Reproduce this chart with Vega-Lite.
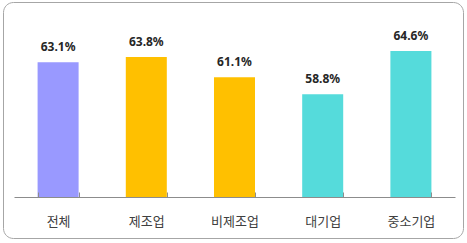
{
  "$schema": "https://vega.github.io/schema/vega-lite/v6.json",
  "width": 460,
  "height": 236,
  "autosize": {"type": "none"},
  "padding": {"left": 3, "top": 2, "right": 4, "bottom": 5},
  "background": "white",
  "config": {
    "view": {"stroke": "#a6a6a6", "strokeWidth": 1, "cornerRadius": 10}
  },
  "data": {
    "values": [
      {"category": "전체", "value": 63.1, "label": "63.1%", "group": "전체"},
      {"category": "제조업", "value": 63.8, "label": "63.8%", "group": "업종"},
      {"category": "비제조업", "value": 61.1, "label": "61.1%", "group": "업종"},
      {"category": "대기업", "value": 58.8, "label": "58.8%", "group": "규모"},
      {"category": "중소기업", "value": 64.6, "label": "64.6%", "group": "규모"}
    ]
  },
  "encoding": {
    "x": {
      "field": "category",
      "type": "nominal",
      "sort": null,
      "scale": {"range": [11, 452], "paddingInner": 0.535, "paddingOuter": 0.2675},
      "axis": {
        "title": null,
        "labelAngle": 0,
        "offset": -41,
        "domainColor": "#8c8c8c",
        "tickColor": "#8c8c8c",
        "tickBand": "extent",
        "tickSize": -5,
        "labelPadding": 23,
        "labelFont": "Noto Sans CJK KR",
        "labelFontSize": 13,
        "labelColor": "#404040",
        "zindex": 1
      }
    },
    "y": {
      "field": "value",
      "type": "quantitative",
      "scale": {"domain": [39.49, 71.2], "zero": false, "nice": false},
      "axis": null
    }
  },
  "layer": [
    {
      "mark": {"type": "bar"},
      "encoding": {
        "y2": {"datum": 45},
        "color": {
          "field": "group",
          "type": "nominal",
          "scale": {"domain": ["전체", "업종", "규모"], "range": ["#9999ff", "#ffc000", "#55dbdb"]},
          "legend": null
        }
      }
    },
    {
      "mark": {"type": "text", "baseline": "bottom", "dy": -8, "font": "Noto Sans", "fontWeight": "bold", "fontSize": 12, "color": "#262626"},
      "encoding": {"text": {"field": "label"}}
    }
  ]
}
